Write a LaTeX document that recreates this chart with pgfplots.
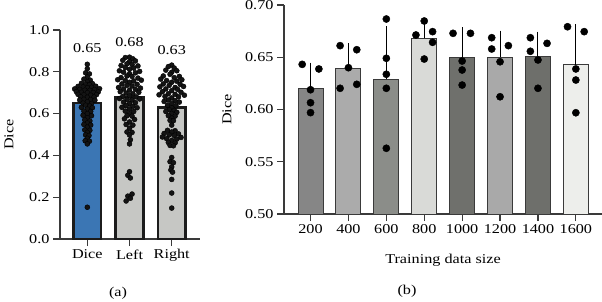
\documentclass[border=0pt]{standalone}
\usepackage{pgfplots}
\usepackage{pgfplotstable}
\pgfplotsset{compat=1.18}
\usepackage{fontspec}
\setmainfont{Liberation Serif}[FakeStretch=1.2]

\definecolor{axisgray}{HTML}{3A3A3A}
\definecolor{barline}{HTML}{1C1C1C}
\definecolor{diceblue}{HTML}{3B76B4}
\definecolor{lightbar}{HTML}{C6C7C4}
\definecolor{gA}{HTML}{868686}
\definecolor{gB}{HTML}{ABABAB}
\definecolor{gC}{HTML}{8B8D89}
\definecolor{gD}{HTML}{D9DAD7}
\definecolor{gE}{HTML}{6F706C}
\definecolor{gF}{HTML}{A9A9A9}
\definecolor{gG}{HTML}{6E6F6B}
\definecolor{gH}{HTML}{EDEEEB}

% per-case Dice scores, dx = horizontal swarm offset
\pgfplotstableread{
dx v
0.00 0.836
0.00 0.815
-0.04 0.795
0.05 0.790
0.00 0.775
-0.08 0.765
0.07 0.760
0.00 0.752
-0.14 0.745
0.12 0.744
-0.04 0.740
0.05 0.738
-0.22 0.730
0.20 0.731
-0.10 0.728
0.10 0.726
0.00 0.724
-0.30 0.718
0.29 0.719
-0.18 0.716
0.17 0.715
-0.06 0.712
0.06 0.711
-0.26 0.705
0.26 0.704
-0.14 0.702
0.14 0.701
0.00 0.700
-0.22 0.692
0.22 0.691
-0.08 0.690
0.08 0.688
-0.16 0.680
0.16 0.679
0.00 0.678
-0.08 0.668
0.08 0.667
-0.18 0.665
0.18 0.664
0.00 0.656
-0.10 0.650
0.10 0.648
-0.04 0.640
0.06 0.636
-0.14 0.630
0.12 0.628
0.00 0.622
-0.08 0.612
0.08 0.610
0.00 0.600
-0.10 0.592
0.10 0.590
0.00 0.580
-0.06 0.570
0.06 0.565
0.00 0.555
-0.08 0.548
0.08 0.545
0.00 0.535
-0.06 0.522
0.06 0.520
0.00 0.510
-0.04 0.498
0.04 0.495
0.00 0.482
-0.05 0.470
0.05 0.468
0.00 0.455
0.00 0.152
}\dicepts

\pgfplotstableread{
dx v
0.00 0.870
-0.10 0.868
0.08 0.862
-0.16 0.855
0.14 0.852
0.00 0.848
-0.06 0.838
0.06 0.835
-0.20 0.830
0.20 0.828
-0.10 0.820
0.10 0.818
0.00 0.812
-0.24 0.805
0.24 0.802
-0.14 0.798
0.14 0.795
0.00 0.790
-0.06 0.780
0.06 0.778
-0.20 0.772
0.20 0.770
-0.28 0.762
0.28 0.760
-0.10 0.758
0.10 0.756
0.00 0.750
-0.18 0.742
0.18 0.740
-0.06 0.735
0.06 0.732
-0.26 0.725
0.26 0.722
-0.14 0.718
0.14 0.716
0.00 0.712
-0.22 0.705
0.22 0.702
-0.08 0.698
0.08 0.695
0.00 0.685
-0.16 0.682
0.16 0.680
-0.24 0.672
0.24 0.670
-0.06 0.668
0.06 0.665
-0.14 0.655
0.14 0.652
0.00 0.648
-0.08 0.638
0.08 0.635
-0.18 0.630
0.18 0.628
0.00 0.622
-0.10 0.612
0.10 0.610
0.00 0.600
-0.06 0.590
0.06 0.588
-0.12 0.575
0.12 0.572
0.00 0.560
-0.08 0.548
0.08 0.545
0.00 0.530
-0.06 0.512
0.06 0.510
0.00 0.498
0.02 0.475
0.00 0.455
0.00 0.322
-0.04 0.305
0.02 0.292
0.06 0.215
-0.04 0.205
0.02 0.195
-0.08 0.182
}\leftpts

\pgfplotstableread{
dx v
0.00 0.832
-0.08 0.825
0.06 0.818
-0.14 0.808
0.12 0.805
0.00 0.798
-0.04 0.788
-0.20 0.780
0.18 0.778
0.06 0.772
-0.26 0.765
0.24 0.762
-0.12 0.758
0.12 0.755
0.00 0.750
-0.20 0.742
0.20 0.740
-0.06 0.735
0.28 0.730
-0.28 0.728
0.08 0.725
-0.14 0.718
0.14 0.716
0.00 0.710
-0.22 0.705
0.22 0.702
-0.08 0.695
0.08 0.692
-0.30 0.690
0.30 0.688
-0.16 0.682
0.16 0.680
0.00 0.675
-0.08 0.665
0.08 0.662
-0.18 0.658
0.18 0.655
0.00 0.648
-0.10 0.640
0.10 0.638
0.00 0.628
-0.06 0.618
0.06 0.615
-0.14 0.610
0.12 0.606
0.00 0.600
-0.08 0.590
0.08 0.588
0.00 0.578
-0.04 0.568
0.04 0.566
0.00 0.545
-0.10 0.520
0.08 0.518
0.00 0.512
-0.18 0.505
0.16 0.503
-0.06 0.498
0.06 0.495
-0.22 0.488
0.22 0.486
-0.12 0.480
0.12 0.478
0.00 0.472
-0.08 0.462
0.08 0.460
-0.04 0.448
0.04 0.446
0.00 0.390
-0.04 0.370
0.04 0.365
0.00 0.345
-0.02 0.330
0.02 0.320
0.00 0.285
0.00 0.220
0.00 0.148
}\rightpts

% five runs per training-set size
\pgfplotstableread{
x y
-0.22 0.6432
0.22 0.6388
0.00 0.6189
0.00 0.6065
0.00 0.5970
0.78 0.6611
1.22 0.6572
1.00 0.6400
0.78 0.6203
1.22 0.6241
2.00 0.6866
2.00 0.6490
2.00 0.6337
2.00 0.6203
2.00 0.5629
3.00 0.6847
2.78 0.6713
3.22 0.6745
3.22 0.6643
3.00 0.6483
3.76 0.6729
4.22 0.6729
4.00 0.6464
4.00 0.6378
4.00 0.6234
4.78 0.6687
5.22 0.6611
4.78 0.6579
5.00 0.6457
5.00 0.6122
5.80 0.6687
6.24 0.6633
5.80 0.6557
6.00 0.6474
6.00 0.6203
6.78 0.6792
7.22 0.6745
7.00 0.6388
7.00 0.6282
7.00 0.5969
}\runpts

\pgfplotsset{
  panel/.style={
    scale only axis,
    axis x line*=bottom, axis y line*=left,
    axis line style={axisgray, line width=1.2pt, -},
    x axis line style={shorten <=-7pt},
    tick style={axisgray, line width=1.2pt},
    major tick length=7pt, tick align=outside,
    tick label style={font=\fontsize{13.5}{15}\selectfont},
    label style={font=\fontsize{13.5}{15}\selectfont},
    /pgf/number format/assume math mode=true,
    clip=false,
  },
  sizebar/.style={ybar, bar width=0.66, bar shift=0pt, fill=#1, draw=axisgray, line width=0.9pt,
    error bars/.cd, y dir=plus, y explicit,
    error bar style={line width=1pt, black},
    error mark options={line width=1pt, mark size=5pt, black}},
}

\begin{document}
\begin{tikzpicture}
\useasboundingbox (0,0) rectangle (602pt,301pt);

% (a) Dice per case
\begin{axis}[panel, at={(60pt,62pt)}, anchor=south west, width=140pt, height=209pt,
  xmin=-0.647, xmax=2.67, ymin=0, ymax=1,
  xtick={0,1,2}, xticklabels={Dice,Left,Right},
  ytick={0,0.2,0.4,0.6,0.8,1.0},
  yticklabel style={/pgf/number format/.cd, fixed, fixed zerofill, precision=1},
  ylabel={Dice}, ylabel style={at={(axis description cs:-0.364,0.5)}, anchor=center}]
  \addplot[ybar, bar width=0.66, bar shift=0pt, fill=diceblue, draw=barline, line width=2.4pt] coordinates {(0,0.65)};
  \addplot[ybar, bar width=0.66, bar shift=0pt, fill=lightbar, draw=barline, line width=2.4pt] coordinates {(1,0.68)};
  \addplot[ybar, bar width=0.66, bar shift=0pt, fill=lightbar, draw=barline, line width=2.4pt] coordinates {(2,0.63)};
  \addplot[only marks, mark=*, mark size=2.5pt, mark options={fill=black!92, draw=none}]
    table[x expr=\thisrow{dx}, y=v] {\dicepts};
  \addplot[only marks, mark=*, mark size=2.5pt, mark options={fill=black!92, draw=none}]
    table[x expr=\thisrow{dx}+1, y=v] {\leftpts};
  \addplot[only marks, mark=*, mark size=2.5pt, mark options={fill=black!92, draw=none}]
    table[x expr=\thisrow{dx}+2, y=v] {\rightpts};
  \node[font=\fontsize{13.5}{15}\selectfont] at (axis cs:0,0.914) {0.65};
  \node[font=\fontsize{13.5}{15}\selectfont] at (axis cs:1,0.943) {0.68};
  \node[font=\fontsize{13.5}{15}\selectfont] at (axis cs:2,0.904) {0.63};
\end{axis}

% (b) Dice against training-set size
\begin{axis}[panel, at={(284pt,87pt)}, anchor=south west, width=318pt, height=209pt,
  xmin=-0.70, xmax=7.69, ymin=0.5, ymax=0.70,
  xtick={0,1,2,3,4,5,6,7}, xticklabels={200,400,600,800,1000,1200,1400,1600},
  ytick={0.50,0.55,0.60,0.65,0.70},
  yticklabel style={/pgf/number format/.cd, fixed, fixed zerofill, precision=2},
  xlabel={Training data size}, xlabel style={at={(axis description cs:0.5,-0.22)}, anchor=center},
  ylabel={Dice}, ylabel style={at={(axis description cs:-0.179,0.5)}, anchor=center}]
  \addplot[sizebar=gA] coordinates {(0,0.620) +- (0,0.020)};
  \addplot[sizebar=gB] coordinates {(1,0.639) +- (0,0.0196)};
  \addplot[sizebar=gC] coordinates {(2,0.629) +- (0,0.0458)};
  \addplot[sizebar=gD] coordinates {(3,0.668) +- (0,0.0138)};
  \addplot[sizebar=gE] coordinates {(4,0.650) +- (0,0.0239)};
  \addplot[sizebar=gF] coordinates {(5,0.650) +- (0,0.0206)};
  \addplot[sizebar=gG] coordinates {(6,0.651) +- (0,0.0187)};
  \addplot[sizebar=gH] coordinates {(7,0.643) +- (0,0.034)};
  \addplot[only marks, mark=*, mark size=3.6pt, mark options={fill=black, draw=none}]
    table[x=x, y=y] {\runpts};
\end{axis}

\node[font=\fontsize{13.5}{15}\selectfont] at (118pt,8pt) {(a)};
\node[font=\fontsize{13.5}{15}\selectfont] at (407pt,10pt) {(b)};
\end{tikzpicture}
\end{document}
